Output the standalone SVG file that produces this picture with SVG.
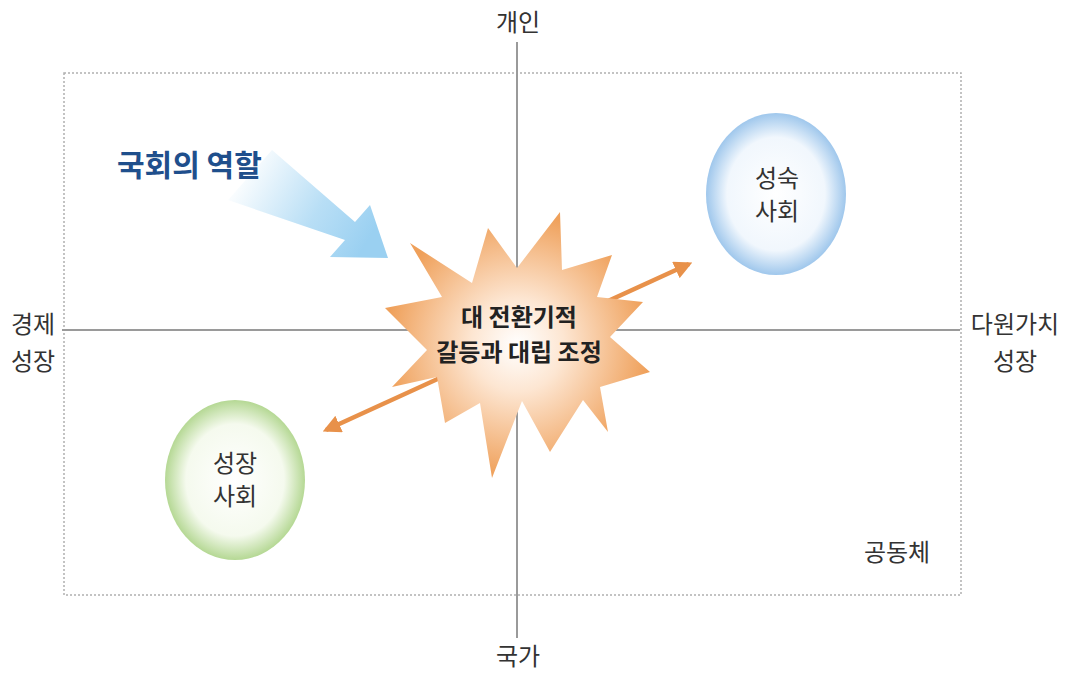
<svg xmlns="http://www.w3.org/2000/svg" width="1066" height="673" viewBox="0 0 1066 673">
<style>
.t{font-family:"Noto Sans CJK KR","Noto Sans",sans-serif;font-size:24px;fill:#333;text-anchor:middle}
.b{font-weight:bold;fill:#222}
.axis{stroke:#9a9a9a;stroke-width:2;fill:none}
.conn{stroke:#e8914a;stroke-width:4.5;fill:none}
</style>
<defs>
<radialGradient id="gStar" cx="0.5" cy="0.5" r="0.5">
<stop offset="0" stop-color="#ffffff"/>
<stop offset="0.35" stop-color="#fde6d2"/>
<stop offset="1" stop-color="#efa05a"/>
</radialGradient>
<radialGradient id="gBlue" cx="0.5" cy="0.5" r="0.5">
<stop offset="0" stop-color="#ffffff"/>
<stop offset="0.7" stop-color="#f1f7fd"/>
<stop offset="1" stop-color="#9fc7ec"/>
</radialGradient>
<radialGradient id="gGreen" cx="0.5" cy="0.5" r="0.5">
<stop offset="0" stop-color="#ffffff"/>
<stop offset="0.7" stop-color="#f5faee"/>
<stop offset="1" stop-color="#b5d894"/>
</radialGradient>
<linearGradient id="gArrow" gradientUnits="userSpaceOnUse" x1="240" y1="170" x2="365" y2="245">
<stop offset="0" stop-color="#a6d6f3" stop-opacity="0"/>
<stop offset="0.6" stop-color="#a6d6f3" stop-opacity="0.8"/>
<stop offset="1" stop-color="#9ad0f1"/>
</linearGradient>
<marker id="ah" viewBox="0 0 10 10" refX="8" refY="5" markerWidth="4" markerHeight="4" orient="auto-start-reverse" markerUnits="strokeWidth">
<path d="M0,0 L10,5 L0,10 z" fill="#e8914a"/>
</marker>
</defs>
<rect x="0" y="0" width="1066" height="673" fill="#ffffff"/>
<rect x="64" y="73" width="897" height="522" fill="none" stroke="#b0b0b0" stroke-width="1.5" stroke-dasharray="2,2"/>
<g id="axes">
<line class="axis" x1="517" y1="42" x2="517" y2="638"/>
<line class="axis" x1="62" y1="330" x2="960" y2="330"/>
</g>
<g id="labels">
<text class="t" x="518" y="31">개인</text>
<text class="t" x="518" y="665">국가</text>
<text class="t" x="33" y="333">경제</text>
<text class="t" x="33" y="370">성장</text>
<text class="t" x="1015" y="333">다원가치</text>
<text class="t" x="1015" y="370">성장</text>
<text class="t" x="897" y="561">공동체</text>
</g>
<g id="role">
<polygon points="272,150 355,222 370,205 388,258 330,257 345,240 228,200" fill="url(#gArrow)"/>
<text x="117" y="176" style="font-family:'Noto Sans CJK KR','Noto Sans',sans-serif;font-size:30px;font-weight:bold;fill:#1f4f8c">국회의 역할</text>
</g>
<g id="connectors">
<line class="conn" x1="326" y1="430" x2="689" y2="264" marker-start="url(#ah)" marker-end="url(#ah)"/>
</g>
<g id="star">
<polygon points="560,212 562,270 612,255 597,297 643,302 610,337 650,372 600,387 608,432 583,400 550,452 522,401 492,478 480,403 445,423 437,377 392,387 427,350 385,308 442,297 410,243 472,283 488,228 517,268" fill="url(#gStar)"/>
<text class="t b" x="519" y="326">대 전환기적</text>
<text class="t b" x="519" y="361">갈등과 대립 조정</text>
</g>
<g id="mature">
<ellipse cx="776" cy="194" rx="70" ry="81" fill="url(#gBlue)"/>
<text class="t" x="777" y="187">성숙</text>
<text class="t" x="777" y="220">사회</text>
</g>
<g id="growth">
<ellipse cx="235" cy="480" rx="70" ry="80" fill="url(#gGreen)"/>
<text class="t" x="235" y="472">성장</text>
<text class="t" x="235" y="505">사회</text>
</g>
</svg>
